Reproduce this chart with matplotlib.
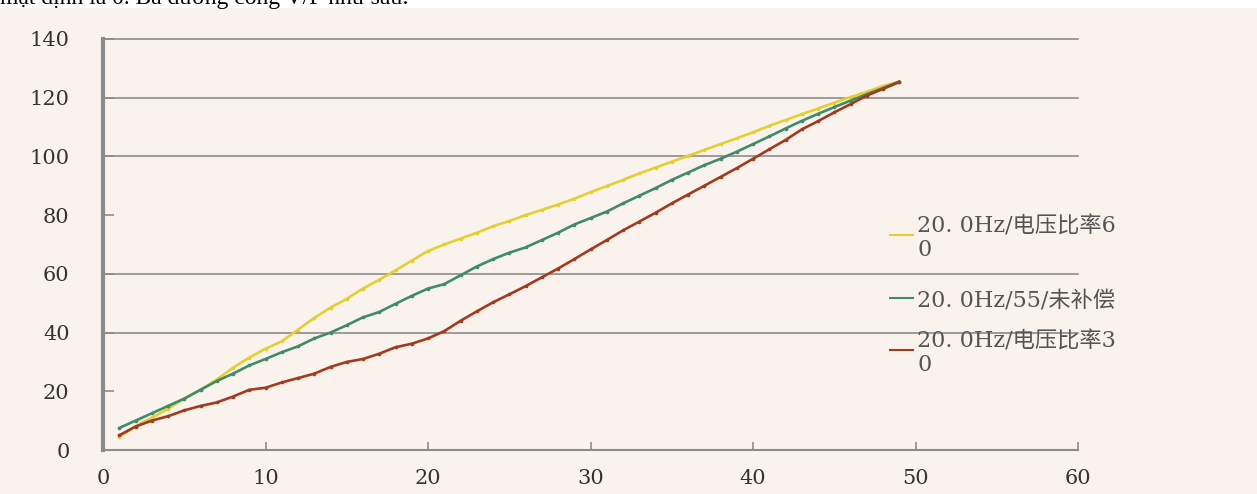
import matplotlib
matplotlib.use("Agg")
import matplotlib.pyplot as plt
from matplotlib.lines import Line2D
from matplotlib.patches import Rectangle

# values (x = step, y = output)
x_vals = list(range(1, 50))
ratio_60 = [4.5, 8, 11, 14, 17.5, 20.5, 24, 28, 31.5, 34.5,
            37, 41, 45, 48.5, 51.5, 55, 58, 61.2, 64.5, 67.8,
            70, 72, 74, 76.2, 78, 80, 81.8, 83.6, 85.6, 87.8,
            89.9, 92, 94.2, 96.2, 98.2, 100.2, 102.2, 104.2, 106.2, 108.2,
            110.4, 112.4, 114.4, 116.3, 118.3, 120.2, 122, 124, 125.5]
ratio_55 = [7.5, 10, 12.5, 15, 17.5, 20.5, 23.5, 26, 28.8, 31,
            33.3, 35.3, 38, 40, 42.5, 45.2, 47, 49.8, 52.5, 55,
            56.5, 59.5, 62.5, 65, 67.2, 69, 71.5, 74, 76.8, 79,
            81.2, 84, 86.6, 89.2, 92, 94.5, 97, 99.2, 101.6, 104.2,
            106.8, 109.5, 112.1, 114.5, 116.8, 119, 121.2, 123.3, 125.5]
ratio_30 = [5, 8, 10, 11.5, 13.5, 15, 16.2, 18.2, 20.5, 21.2,
            23, 24.5, 26, 28.3, 30, 31, 32.8, 35, 36.2, 38,
            40.5, 44, 47.2, 50.3, 53, 55.8, 58.8, 61.8, 65, 68.3,
            71.5, 74.8, 77.8, 80.8, 84, 87, 90, 93, 96, 99.2,
            102.4, 105.6, 109.2, 112, 115, 117.8, 120.7, 123, 125.3]

series_labels = ["20. 0Hz/电压比率6\n0", "20. 0Hz/55/未补偿", "20. 0Hz/电压比率3\n0"]
series_colors = ["#e5cf2e", "#3f8c68", "#a33a1e"]
x_ticks = [0, 10, 20, 30, 40, 50, 60]
y_ticks = [0, 20, 40, 60, 80, 100, 120, 140]
grid_levels = [40, 60, 100, 120, 140]
caption = "mặt định là 0. Ba đường cong V/F như sau:"

W, H = 1257, 494
bg = "#faf3ed"
grey = "#8c8c8c"

fig = plt.figure(figsize=(W / 100, H / 100), dpi=100, facecolor=bg)

# white strip with the cut-off caption at the very top
fig.patches.append(Rectangle((0, 1 - 8 / H), 1, 8 / H, transform=fig.transFigure,
                             facecolor="white", edgecolor="none", zorder=0))
fig.text(0.0, 1 - 4 / H, caption, ha="left", va="baseline",
         family="Liberation Serif", fontsize=17, color="black")

ax = fig.add_axes([103 / W, 44 / H, 975 / W, 411 / H])
ax.set_facecolor(bg)

for lvl in grid_levels:
    ax.axhline(lvl, color=grey, lw=1.2, zorder=1, clip_on=False)

for ys, col in zip([ratio_60, ratio_55, ratio_30], series_colors):
    ax.plot(x_vals, ys, color=col, lw=1.9, marker="o", ms=1.6, zorder=3)

ax.set_xlim(0, 60)
ax.set_ylim(0, 140)
ax.set_xticks(x_ticks)
ax.set_yticks(y_ticks)

for side in ["top", "right"]:
    ax.spines[side].set_visible(False)
ax.spines["left"].set_color(grey)
ax.spines["left"].set_linewidth(3)
ax.spines["bottom"].set_color(grey)
ax.spines["bottom"].set_linewidth(1.5)

ax.tick_params(axis="y", direction="in", length=8, width=1.2, color=grey,
               pad=24, labelcolor="#333333")
ax.tick_params(axis="x", direction="in", length=6, width=1.2, color=grey,
               pad=14, labelcolor="#333333")
for lab in ax.get_xticklabels() + ax.get_yticklabels():
    lab.set_fontfamily("DejaVu Serif")
    lab.set_fontsize(15)

# legend drawn by hand, handle level with the first text line
legend_rows = [235, 298, 350]
for row, col, text in zip(legend_rows, series_colors, series_labels):
    yf = 1 - row / H
    fig.add_artist(Line2D([890 / W, 913 / W], [yf, yf], transform=fig.transFigure,
                          color=col, lw=1.5))
    fig.text(917 / W, yf, text, ha="left", va="center_baseline",
             family=["DejaVu Serif", "Noto Sans CJK SC"], fontsize=16,
             color="#555555", linespacing=1.1)

fig.savefig("out.png", dpi=100, facecolor=bg)
